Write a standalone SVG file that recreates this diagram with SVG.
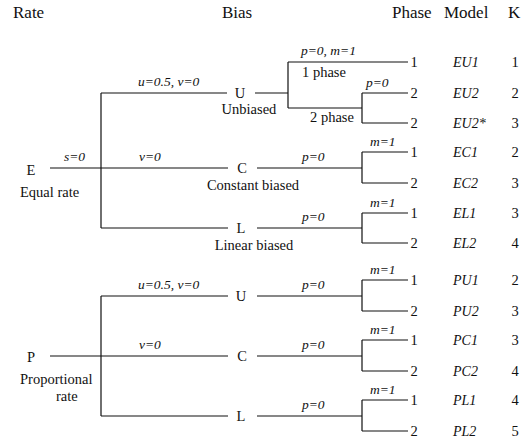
<svg xmlns="http://www.w3.org/2000/svg" width="523" height="445" viewBox="0 0 523 445">
<style>
text{font-family:"Liberation Serif","Times New Roman",serif;fill:#111;}
.h{font-size:17px;}
.t{font-size:14.5px;}
.i{font-size:13.5px;font-style:italic;}
.m{font-size:14px;font-style:italic;}
.c{text-anchor:middle;}
.ln{stroke:#111;stroke-width:1.2;fill:none;}
</style>
<rect width="523" height="445" fill="#fff"/>
<g id="headers">
<text class="h" x="13" y="18">Rate</text>
<text class="h" x="222" y="18">Bias</text>
<text class="h" x="392" y="18">Phase</text>
<text class="h" x="444" y="18">Model</text>
<text class="h" x="508" y="18">K</text>
</g>
<g id="connectors" class="ln">
<path d="M50,168H228M101,93V228M101,93H227M255,93H288M288,62V108M288,62H408M288,108H362M362,93V123M362,93H408M362,123H408"/>
<path d="M257,168H362M362,152V183M362,152H408M362,183H408"/>
<path d="M101,228H228M257,228H362M362,213V243M362,213H408M362,243H408"/>
<path d="M50,356H228M101,296V416M101,296H228M257,296H362M362,280V311M362,280H408M362,311H408"/>
<path d="M257,356H362M362,340V371M362,340H408M362,371H408"/>
<path d="M101,416H228M257,416H362M362,400V431M362,400H408M362,431H408"/>
</g>
<g id="edge-labels">
<text class="i" x="64" y="161">s=0</text>
<text class="i" x="138" y="86">u=0.5, v=0</text>
<text class="i" x="139" y="161">v=0</text>
<text class="i" x="301" y="55">p=0, m=1</text>
<text class="t" x="302" y="77">1 phase</text>
<text class="i" x="366" y="87">p=0</text>
<text class="t" x="310" y="122">2 phase</text>
<text class="i" x="302" y="161">p=0</text>
<text class="i" x="302" y="221">p=0</text>
<text class="i" x="370" y="146">m=1</text>
<text class="i" x="370" y="207">m=1</text>
<text class="i" x="138" y="289">u=0.5, v=0</text>
<text class="i" x="139" y="349">v=0</text>
<text class="i" x="302" y="289">p=0</text>
<text class="i" x="302" y="349">p=0</text>
<text class="i" x="302" y="409">p=0</text>
<text class="i" x="370" y="274">m=1</text>
<text class="i" x="370" y="334">m=1</text>
<text class="i" x="370" y="394">m=1</text>
</g>
<g id="node-E"><text class="t c" x="31" y="175">E</text><text class="t" x="20" y="197">Equal rate</text></g>
<g id="node-P"><text class="t c" x="31" y="362">P</text><text class="t" x="20" y="384">Proportional</text><text class="t" x="56" y="401">rate</text></g>
<g id="node-EU"><text class="t c" x="240" y="98">U</text><text class="t c" x="249" y="114">Unbiased</text></g>
<g id="node-EC"><text class="t c" x="242" y="173">C</text><text class="t c" x="253" y="190">Constant biased</text></g>
<g id="node-EL"><text class="t c" x="241" y="233">L</text><text class="t c" x="254" y="250">Linear biased</text></g>
<g id="node-PU"><text class="t c" x="241" y="301">U</text></g>
<g id="node-PC"><text class="t c" x="242" y="361">C</text></g>
<g id="node-PL"><text class="t c" x="241" y="421">L</text></g>
<g id="model-EU1"><text class="t c" x="414" y="67">1</text><text class="m" x="453" y="67">EU1</text><text class="t c" x="515" y="67">1</text></g>
<g id="model-EU2"><text class="t c" x="414" y="98">2</text><text class="m" x="453" y="98">EU2</text><text class="t c" x="515" y="98">2</text></g>
<g id="model-EU2s"><text class="t c" x="414" y="128">2</text><text class="m" x="453" y="128">EU2*</text><text class="t c" x="515" y="128">3</text></g>
<g id="model-EC1"><text class="t c" x="414" y="157">1</text><text class="m" x="453" y="157">EC1</text><text class="t c" x="515" y="157">2</text></g>
<g id="model-EC2"><text class="t c" x="414" y="188">2</text><text class="m" x="453" y="188">EC2</text><text class="t c" x="515" y="188">3</text></g>
<g id="model-EL1"><text class="t c" x="414" y="218">1</text><text class="m" x="453" y="218">EL1</text><text class="t c" x="515" y="218">3</text></g>
<g id="model-EL2"><text class="t c" x="414" y="248">2</text><text class="m" x="453" y="248">EL2</text><text class="t c" x="515" y="248">4</text></g>
<g id="model-PU1"><text class="t c" x="414" y="285">1</text><text class="m" x="453" y="285">PU1</text><text class="t c" x="515" y="285">2</text></g>
<g id="model-PU2"><text class="t c" x="414" y="316">2</text><text class="m" x="453" y="316">PU2</text><text class="t c" x="515" y="316">3</text></g>
<g id="model-PC1"><text class="t c" x="414" y="345">1</text><text class="m" x="453" y="345">PC1</text><text class="t c" x="515" y="345">3</text></g>
<g id="model-PC2"><text class="t c" x="414" y="376">2</text><text class="m" x="453" y="376">PC2</text><text class="t c" x="515" y="376">4</text></g>
<g id="model-PL1"><text class="t c" x="414" y="405">1</text><text class="m" x="453" y="405">PL1</text><text class="t c" x="515" y="405">4</text></g>
<g id="model-PL2"><text class="t c" x="414" y="436">2</text><text class="m" x="453" y="436">PL2</text><text class="t c" x="515" y="436">5</text></g>
</svg>
